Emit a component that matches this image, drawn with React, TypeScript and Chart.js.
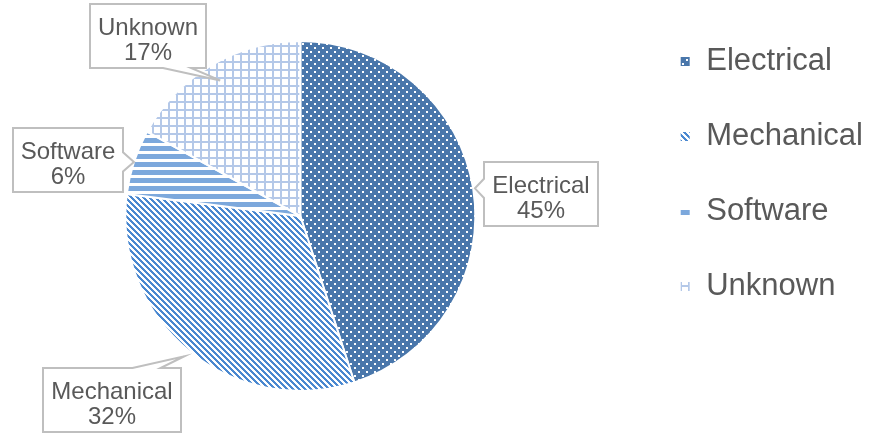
import React, { useEffect, useRef } from "react";
import { Chart, registerables } from "chart.js";

Chart.register(...registerables);

// ---- data ----
const categories = ["Electrical", "Mechanical", "Software", "Unknown"];
const shares = [45, 32, 6, 17];

// ---- layout of the callout labels (relative to the slice's outer mid point) ----
const LABEL_TIP_R = [1.01, 1.04, 1.0, 0.9];
const LABEL_SHIFT: [number, number][] = [
  [66, 6],
  [-72.5, 44],
  [-66, -2],
  [-72, -44],
];

const FONT = '"Liberation Sans", Arial, Helvetica, sans-serif';
const TEXT_COLOR = "#595959";

// canvas is a bit wider than the page (shifted left) so the pie sits where the reference has it
const CANVAS_W = 908;
const CANVAS_H = 432;
const CANVAS_LEFT = -35;
const CANVAS_TOP = 2;

function makePattern(kind: string): CanvasPattern | string {
  const c = document.createElement("canvas");
  const size = kind === "mech" ? 6 : 8;
  c.width = size;
  c.height = size;
  const g = c.getContext("2d");
  if (!g) return "#4a77ab";
  g.fillStyle = "#ffffff";
  g.fillRect(0, 0, size, size);
  if (kind === "elec") {
    g.fillStyle = "#4a77ab";
    g.fillRect(0, 0, 8, 8);
    g.fillStyle = "#ffffff";
    g.fillRect(1, 1, 2, 2);
    g.fillRect(5, 5, 2, 2);
  } else if (kind === "mech") {
    g.fillStyle = "#4a88d0";
    for (let y = 0; y < 6; y++) {
      for (let x = 0; x < 6; x++) {
        if ((((x - y) % 6) + 6) % 6 < 3) g.fillRect(x, y, 1, 1);
      }
    }
  } else if (kind === "soft") {
    g.fillStyle = "#7ca8dc";
    g.fillRect(0, 0, 8, 5);
  } else {
    g.fillStyle = "#b4c8e8";
    g.fillRect(0, 3, 8, 2);
    g.fillRect(3, 0, 2, 8);
  }
  const p = g.createPattern(c, "repeat");
  return p || "#4a77ab";
}

const calloutPlugin = {
  id: "callouts",
  afterDatasetsDraw(chart: any) {
    const meta = chart.getDatasetMeta(0);
    const ctx: CanvasRenderingContext2D = chart.ctx;
    const total = shares.reduce((a, b) => a + b, 0);
    ctx.save();
    ctx.font = `24px ${FONT}`;
    meta.data.forEach((arc: any, i: number) => {
      const { x, y, startAngle, endAngle, outerRadius } = arc.getProps(
        ["x", "y", "startAngle", "endAngle", "outerRadius"],
        true
      );
      const mid = (startAngle + endAngle) / 2;
      const tr = outerRadius * LABEL_TIP_R[i];
      const tip = { x: x + Math.cos(mid) * tr, y: y + Math.sin(mid) * tr };
      const line1 = categories[i];
      const line2 = Math.round((shares[i] / total) * 100) + "%";
      const w = Math.max(ctx.measureText(line1).width, ctx.measureText(line2).width) + 16;
      const h = 64;
      const cx = tip.x + LABEL_SHIFT[i][0];
      const cy = tip.y + LABEL_SHIFT[i][1];
      const L = Math.round(cx - w / 2);
      const R = Math.round(cx + w / 2);
      const T = Math.round(cy - h / 2);
      const B = Math.round(cy + h / 2);

      let side: string;
      if (tip.y > B) side = "bottom";
      else if (tip.y < T) side = "top";
      else if (tip.x < L) side = "left";
      else side = "right";

      const horiz = side === "top" || side === "bottom";
      const s0 = horiz ? L : T;
      const s1 = horiz ? R : B;
      const len = s1 - s0;
      const hw = Math.min(14, len * 0.15);
      const proj = horiz ? tip.x : tip.y;
      const bc = Math.min(Math.max(proj, s0 + len * 0.25), s1 - len * 0.25);

      ctx.beginPath();
      ctx.moveTo(L, T);
      if (side === "top") {
        ctx.lineTo(bc - hw, T);
        ctx.lineTo(tip.x, tip.y);
        ctx.lineTo(bc + hw, T);
      }
      ctx.lineTo(R, T);
      if (side === "right") {
        ctx.lineTo(R, bc - hw);
        ctx.lineTo(tip.x, tip.y);
        ctx.lineTo(R, bc + hw);
      }
      ctx.lineTo(R, B);
      if (side === "bottom") {
        ctx.lineTo(bc + hw, B);
        ctx.lineTo(tip.x, tip.y);
        ctx.lineTo(bc - hw, B);
      }
      ctx.lineTo(L, B);
      if (side === "left") {
        ctx.lineTo(L, bc + hw);
        ctx.lineTo(tip.x, tip.y);
        ctx.lineTo(L, bc - hw);
      }
      ctx.closePath();
      ctx.fillStyle = "#ffffff";
      ctx.fill();
      ctx.lineWidth = 2;
      ctx.strokeStyle = "#bfbfbf";
      ctx.lineJoin = "miter";
      ctx.stroke();

      ctx.fillStyle = TEXT_COLOR;
      ctx.textAlign = "center";
      ctx.textBaseline = "alphabetic";
      const mx = (L + R) / 2;
      const my = (T + B) / 2;
      ctx.fillText(line1, mx, my - 1);
      ctx.fillText(line2, mx, my + 24);
    });
    ctx.restore();
  },
};

export default function App() {
  const ref = useRef<HTMLCanvasElement>(null);

  useEffect(() => {
    if (!ref.current) return;
    const patterns = [
      makePattern("elec"),
      makePattern("mech"),
      makePattern("soft"),
      makePattern("unk"),
    ];
    const chart = new Chart(ref.current, {
      type: "pie",
      data: {
        labels: categories,
        datasets: [
          {
            data: shares,
            backgroundColor: patterns as any,
            borderColor: "#ffffff",
            borderWidth: 2,
            radius: 175,
          } as any,
        ],
      },
      options: {
        responsive: false,
        devicePixelRatio: 1,
        animation: false,
        layout: { padding: { left: 0, top: 0, right: 0, bottom: 4 } },
        plugins: {
          legend: {
            position: "right",
            align: "start",
            labels: {
              boxWidth: 11,
              boxHeight: 11,
              padding: 44,
              color: TEXT_COLOR,
              font: { size: 31, family: FONT },
            },
          },
          tooltip: { enabled: false },
        },
      },
      plugins: [calloutPlugin],
    });
    return () => chart.destroy();
  }, []);

  return (
    <div
      style={{
        position: "fixed",
        left: 0,
        top: 0,
        width: 873,
        height: 434,
        overflow: "hidden",
        background: "#ffffff",
      }}
    >
      <canvas
        ref={ref}
        width={CANVAS_W}
        height={CANVAS_H}
        style={{
          position: "absolute",
          left: CANVAS_LEFT,
          top: CANVAS_TOP,
          display: "block",
          width: CANVAS_W,
          height: CANVAS_H,
        }}
      />
    </div>
  );
}
